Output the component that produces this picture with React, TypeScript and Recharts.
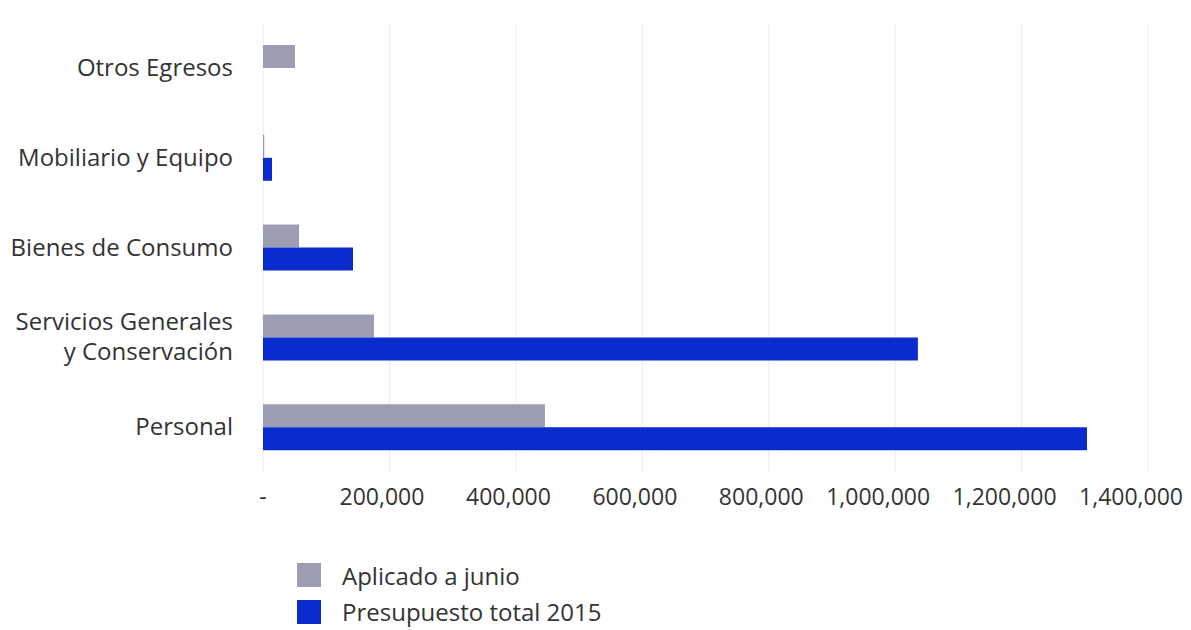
import React from 'react';
import { BarChart, Bar, XAxis, YAxis, CartesianGrid } from 'recharts';

const categories = ['Otros Egresos', 'Mobiliario y Equipo', 'Bienes de Consumo', 'Servicios Generales\ny Conservación', 'Personal'];
const aplicado = [50600, 2000, 57000, 175600, 446000];
const presupuesto = [0, 14200, 142400, 1036000, 1303500];
const xTicks = [0, 200000, 400000, 600000, 800000, 1000000, 1200000, 1400000];
const seriesNames = ['Aplicado a junio', 'Presupuesto total 2015'];

const GRAY = '#9c9db2';
const BLUE = '#0a2ccf';
const TEXT = '#333333';
const FONT = '"Open Sans", sans-serif';

const data = categories.map((c, i) => ({ name: c, aplicado: aplicado[i], presupuesto: presupuesto[i] }));

const fmt = (v: number) => (v === 0 ? '-' : v.toLocaleString('en-US'));

const YTick = (props: any) => {
  const { x, y, payload } = props;
  const lines = String(payload.value).split('\n');
  const lh = 30;
  const start = y - 2 - ((lines.length - 1) * lh) / 2;
  return (
    <text x={x - 22} y={start} textAnchor="end" fill={TEXT} fontSize={24} fontFamily={FONT} dominantBaseline="central">
      {lines.map((l, i) => (
        <tspan key={i} x={x - 22} y={start + i * lh}>{l}</tspan>
      ))}
    </text>
  );
};

const XTick = (props: any) => {
  const { x, y, payload } = props;
  const v = payload.value as number;
  const isZero = v === 0;
  return (
    <text
      x={isZero ? x : x + 35}
      y={y}
      dy="0.71em"
      textAnchor={isZero ? 'middle' : 'end'}
      fill={TEXT}
      fontSize={23}
      fontFamily={FONT}
    >
      {fmt(v)}
    </text>
  );
};

export default function App() {
  return (
    <div style={{ position: 'absolute', left: 0, top: 0, width: 1191, height: 630, background: '#fff', fontFamily: FONT }}>
      <BarChart
        width={1191}
        height={630}
        data={data}
        layout="vertical"
        margin={{ top: 23, right: 43, left: 0, bottom: 118 }}
        barGap={0}
        barSize={23}
      >
        <CartesianGrid horizontal={false} stroke="#ececec" />
        <XAxis
          type="number"
          domain={[0, 1400000]}
          ticks={xTicks}
          axisLine={false}
          tickLine={false}
          height={40}
          tickMargin={11}
          tick={<XTick />}
          interval={0}
        />
        <YAxis
          type="category"
          dataKey="name"
          width={263}
          axisLine={false}
          tickLine={false}
          tick={<YTick />}
          interval={0}
        />
        <Bar dataKey="aplicado" name={seriesNames[0]} fill={GRAY} isAnimationActive={false} />
        <Bar dataKey="presupuesto" name={seriesNames[1]} fill={BLUE} isAnimationActive={false} />
      </BarChart>
      <div style={{ position: 'absolute', left: 297, top: 563, width: 24, height: 24, background: GRAY }} />
      <div style={{ position: 'absolute', left: 297, top: 600, width: 24, height: 24, background: BLUE }} />
      <div style={{ position: 'absolute', left: 342, top: 560, fontSize: 24, lineHeight: '32px', color: TEXT, whiteSpace: 'nowrap' }}>{seriesNames[0]}</div>
      <div style={{ position: 'absolute', left: 342, top: 596, fontSize: 24, lineHeight: '32px', color: TEXT, whiteSpace: 'nowrap' }}>{seriesNames[1]}</div>
    </div>
  );
}
